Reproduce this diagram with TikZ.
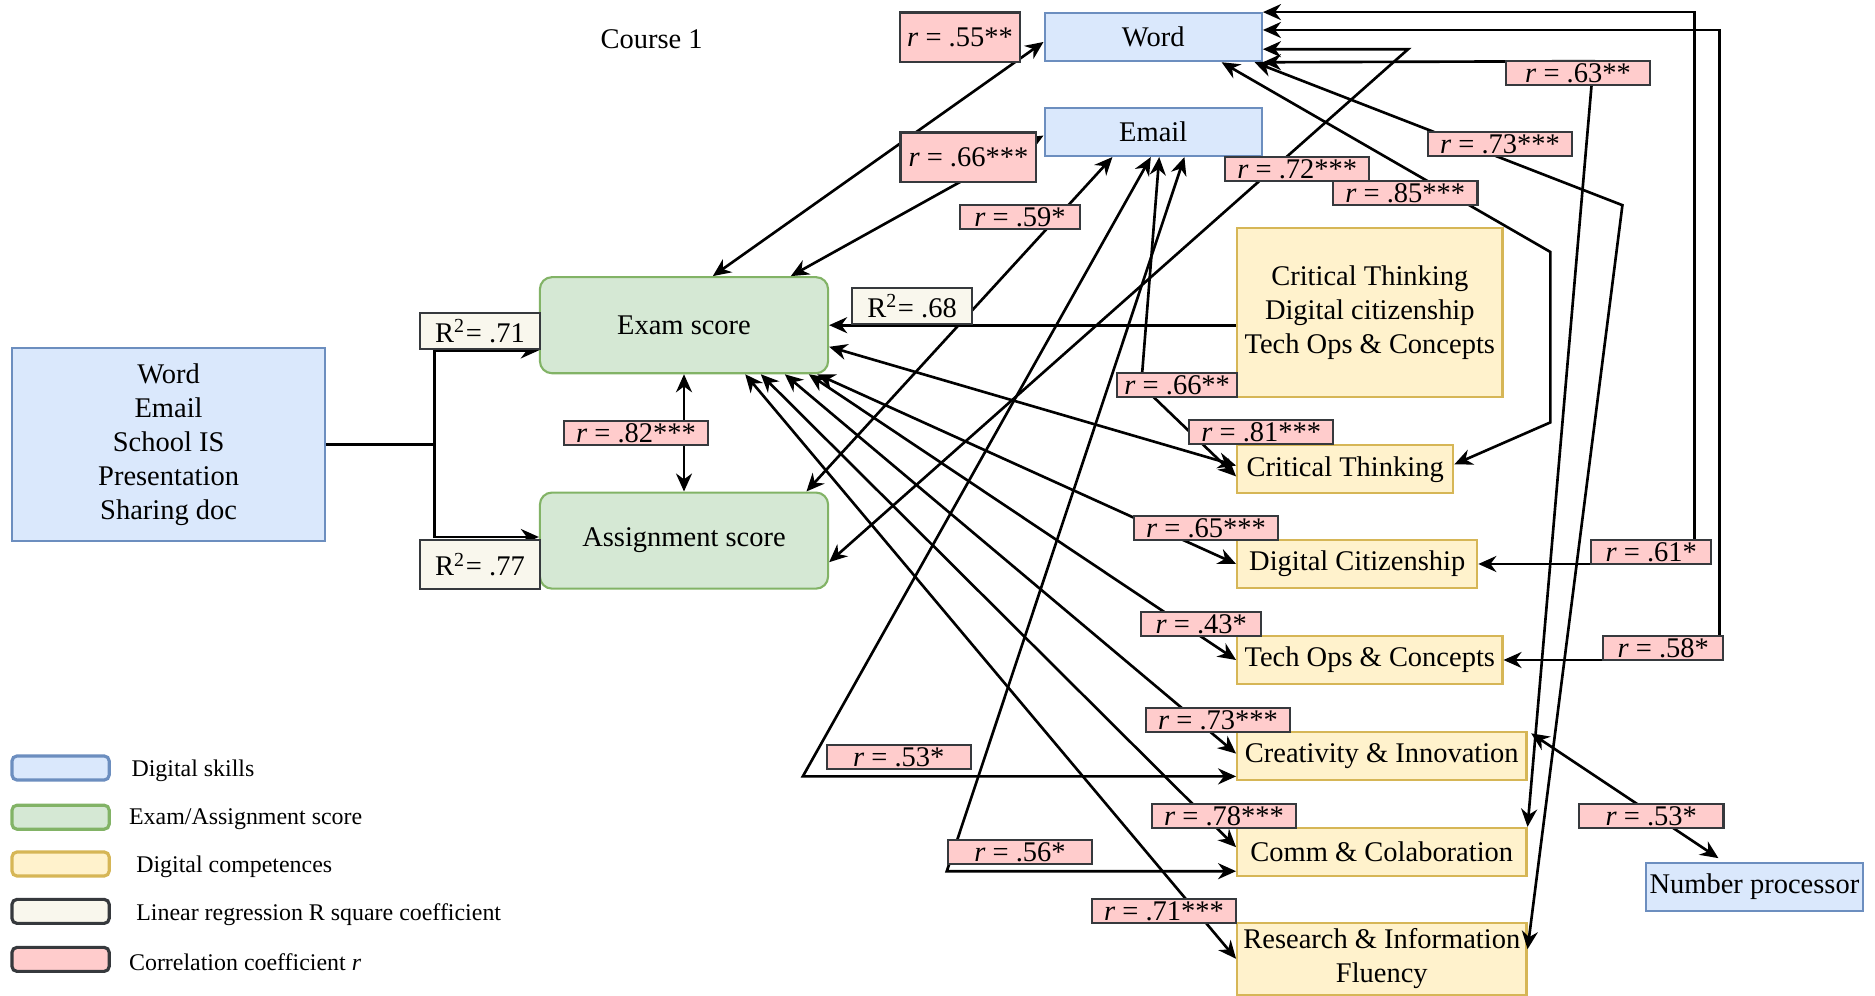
\documentclass[tikz,border=0pt]{standalone}
\usepackage{fontspec}
\setmainfont{Liberation Serif}
\usetikzlibrary{arrows.meta,calc}

\definecolor{skillfill}{HTML}{DAE8FC}
\definecolor{skillline}{HTML}{6C8EBF}
\definecolor{scorefill}{HTML}{D5E8D4}
\definecolor{scoreline}{HTML}{82B366}
\definecolor{compfill}{HTML}{FFF2CC}
\definecolor{compline}{HTML}{D6B656}
\definecolor{rsqfill}{HTML}{F9F7ED}
\definecolor{corrfill}{HTML}{FFCCCC}
\definecolor{labline}{HTML}{36393D}

\tikzset{every node/.style={font=\fontsize{8.1}{9.7}\selectfont}}
\tikzset{skill/.style={draw=skillline,fill=skillfill,line width=0.6pt,minimum width=2.172cm,minimum height=0.48cm,inner sep=1pt}}
\tikzset{score/.style={draw=scoreline,fill=scorefill,line width=0.6pt,rounded corners=0.12cm,minimum width=2.88cm,minimum height=0.96cm}}
\tikzset{comp/.style={draw=compline,fill=compfill,line width=0.6pt,minimum height=0.48cm,inner sep=1pt,align=center}}
\tikzset{rsq/.style={draw=labline,fill=rsqfill,line width=0.7pt,minimum width=1.2cm,minimum height=0.36cm,inner sep=0pt}}
\tikzset{corr/.style={draw=labline,fill=corrfill,line width=0.7pt,minimum width=1.44cm,minimum height=0.24cm,inner sep=0pt}}
\tikzset{link/.style={line width=0.75pt,{Stealth[length=1.8mm,width=1.6mm]}-{Stealth[length=1.8mm,width=1.6mm]}}}
\tikzset{reg/.style={line width=0.75pt,-{Stealth[length=1.8mm,width=1.6mm]}}}
\tikzset{legendbox/.style={line width=0.9pt,rounded corners=0.05cm,minimum width=0.972cm,minimum height=0.24cm,inner sep=0pt}}
\tikzset{legendtext/.style={anchor=west,inner sep=0pt,font=\fontsize{6.8}{8}\selectfont}}

\begin{document}
\begin{tikzpicture}[x=0.012cm,y=-0.012cm]
        \useasboundingbox (0,0) rectangle (1562.5,830);
        % draw the boxes
        \node (title) at (543,33) {Course 1};
        \node [skill,minimum width=3.132cm,minimum height=1.932cm,align=center] (skills) at (140.5,370.5) {Word\\Email\\School IS\\Presentation\\Sharing doc};
        \node [skill] (word) at (961,31) {Word};
        \node [skill] (email) at (961,110) {Email};
        \node [skill,minimum width=2.16cm] (numproc) at (1462,739) {Number processor};
        \node [score] (exam) at (570,271) {Exam score};
        \node [score] (assign) at (570,450.5) {Assignment score};
        \node [comp,minimum width=2.652cm,minimum height=1.692cm] (allcomp) at (1141.5,260.5) {Critical Thinking\\Digital citizenship\\Tech Ops \& Concepts};
        \node [comp,minimum width=2.16cm] (crit) at (1121,391) {Critical Thinking};
        \node [comp,minimum width=2.4cm] (dc) at (1131,470) {Digital Citizenship};
        \node [comp,minimum width=2.652cm] (tech) at (1141.5,550) {Tech Ops \& Concepts};
        \node [comp,minimum width=2.892cm] (creat) at (1151.5,630) {Creativity \& Innovation};
        \node [comp,minimum width=2.892cm] (comm) at (1151.5,710) {Comm \& Colaboration};
        \node [comp,minimum width=2.892cm,minimum height=0.72cm] (research) at (1151.5,799) {Research \& Information\\Fluency};

        % regression arrows
        \draw[reg] (skills.east) -- ++(90,0) |- ($(exam.west)+(0,21)$);
        \draw[reg] (skills.east) -- ++(90,0) |- ($(assign.west)+(0,-3)$);
        \draw[reg] (allcomp.west |- exam.east) -- (exam.east);

        % correlations of the scores
        \draw[link] (exam.south) -- (assign.north);
        \draw[link] ($(exam.north)+(24,0)$) -- ($(word.west)+(0,4)$);
        \draw[link] ($(exam.north)+(89,0)$) -- ($(email.west)+(0,3)$);
        \draw[link] ($(assign.north)+(102,0)$) -- ($(email.south)+(-34,0)$);
        \draw[link] ($(word.east)+(0,10)$) -- ++(121,0) -- ($(assign.east)+(0,18)$);
        \draw[link] ($(exam.east)+(0,18)$) -- ($(crit.west)+(0,-3)$);
        \draw[link] ($(exam.south)+(111,0)$) -- (dc.west);
        \draw[link] ($(exam.south)+(104,0)$) -- (tech.west);
        \draw[link] ($(exam.south)+(84,0)$) -- ($(creat.west)+(0,-2)$);
        \draw[link] ($(exam.south)+(64,0)$) -- ($(comm.west)+(0,-4)$);
        \draw[link] ($(exam.south)+(51,0)$) -- (research.west);

        % correlations of the skills
        \draw[link] ($(email.south)+(5,0)$) -- (951,321) -- ($(crit.west)+(0,6)$);
        \draw[link] ($(email.south)+(-2,0)$) -- (669,647) -- ($(creat.west)+(0,17)$);
        \draw[link] ($(email.south)+(26,0)$) -- (789,726) -- ($(comm.west)+(0,16)$);
        \draw[link] ($(word.south)+(57,0)$) -- (1292,210) -- (1292,352) -- ($(crit.east)+(0,-4)$);
        \draw[link] ($(word.south east)+(-7,0)$) -- (1352,171) -- ($(research.east)+(0,-8)$);
        \draw[link] (word.south east) -- (1328,51) -- (comm.north east);
        \draw[link] (word.north east) -| ($(dc.east)+(180,0)$) -- (dc.east);
        \draw[link] ($(word.east)+(0,-6)$) -| ($(tech.east)+(180,0)$) -- (tech.east);
        \draw[link] ($(creat.north east)+(3,2)$) -- ($(numproc.north)+(-30,-3)$);

        % draw the coefficients
        \node [rsq] (r71) at (400,276) {R\textsuperscript{2}= .71};
        \node [rsq,minimum height=0.492cm] (r77) at (400,470.5) {R\textsuperscript{2}= .77};
        \node [rsq] (r68) at (760,255) {R\textsuperscript{2}= .68};
        \node [corr] (c82) at (530,361) {\textit{r} = .82***};
        \node [corr,minimum width=1.2cm,minimum height=0.492cm] (c55) at (800,31) {\textit{r} = .55**};
        \node [corr,minimum width=1.356cm,minimum height=0.492cm] (c66a) at (807,131) {\textit{r} = .66***};
        \node [corr,minimum width=1.2cm] (c59) at (850,181) {\textit{r} = .59*};
        \node [corr] (c72) at (1081,141) {\textit{r} = .72***};
        \node [corr] (c85) at (1171,161) {\textit{r} = .85***};
        \node [corr] (c73a) at (1250,120) {\textit{r} = .73***};
        \node [corr] (c63) at (1315,61) {\textit{r} = .63**};
        \node [corr,minimum width=1.2cm] (c66b) at (981,321) {\textit{r} = .66**};
        \node [corr] (c81) at (1051,360) {\textit{r} = .81***};
        \node [corr] (c65) at (1005,440) {\textit{r} = .65***};
        \node [corr,minimum width=1.2cm] (c43) at (1001,520) {\textit{r} = .43*};
        \node [corr] (c73b) at (1015,600) {\textit{r} = .73***};
        \node [corr] (c78) at (1020,680) {\textit{r} = .78***};
        \node [corr] (c71) at (970,759) {\textit{r} = .71***};
        \node [corr] (c53a) at (749,631) {\textit{r} = .53*};
        \node [corr] (c56) at (850,710) {\textit{r} = .56*};
        \node [corr,minimum width=1.2cm] (c61) at (1376,460) {\textit{r} = .61*};
        \node [corr,minimum width=1.2cm] (c58) at (1386,540) {\textit{r} = .58*};
        \node [corr] (c53b) at (1376,680) {\textit{r} = .53*};

        % draw the legend
        \node [legendbox,draw=skillline,fill=skillfill] (k1) at (50.5,640) {};
        \node [legendtext] (t1) at (109,642) {Digital skills};
        \node [legendbox,draw=scoreline,fill=scorefill] (k2) at (50.5,681) {};
        \node [legendtext] (t2) at (107,683) {Exam/Assignment score};
        \node [legendbox,draw=compline,fill=compfill] (k3) at (50.5,720) {};
        \node [legendtext] (t3) at (113,722) {Digital competences};
        \node [legendbox,draw=labline,fill=rsqfill] (k4) at (50.5,759.5) {};
        \node [legendtext] (t4) at (113,762) {Linear regression R square coefficient};
        \node [legendbox,draw=labline,fill=corrfill] (k5) at (50.5,799.5) {};
        \node [legendtext] (t5) at (107,802) {Correlation coefficient \textit{r}};
\end{tikzpicture}
\end{document}
